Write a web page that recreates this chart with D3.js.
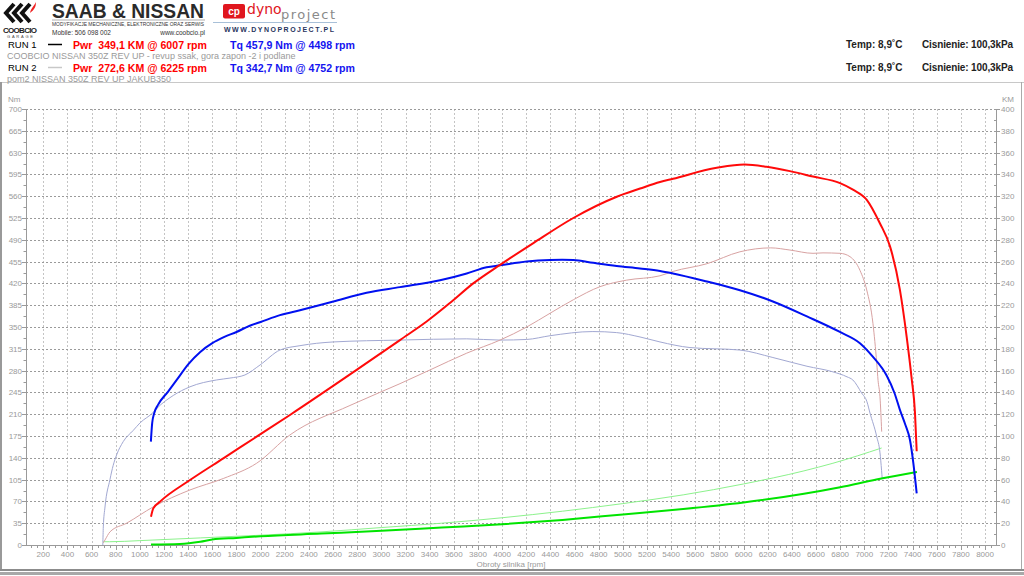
<!DOCTYPE html>
<html><head><meta charset="utf-8">
<script src="https://cdn.jsdelivr.net/npm/d3@7/dist/d3.min.js"></script>
<style>body{margin:0;background:#fff;} svg{display:block;font-family:"Liberation Sans",Arial,sans-serif;}</style>
</head><body><svg id="c" width="1024" height="576"></svg>
<script>
// ---- data ----
const rpmTicks = d3.range(200, 8001, 200);
const rpmMinor = d3.range(100, 8100, 50);
const nmTicks = d3.range(0, 701, 35);
const kmTicks = d3.range(0, 401, 20);

// Run 1 torque [rpm, Nm]
const tq1 = [[1091,166],[1102,196],[1119,212],[1150,225],[1232,246],[1305,265],[1400,290],[1500,310],[1600,324],[1700,334],[1800,342],[1910,352],[2000,358],[2160,369],[2326,377],[2602,391],[2878,405],[3154,414],[3486,425],[3707,436],[3872,446],[3983,449],[4204,455],[4397,457.5],[4498,457.9],[4590,457.5],[4755,453],[4949,448],[5142,444],[5308,440],[5415,436],[5697,423],[5970,409],[6243,391],[6525,367],[6798,342],[6964,324],[7072,302],[7185,272],[7250,244],[7295,217],[7340,193],[7378,169],[7406,132],[7434,83]];
// Run 2 torque [rpm, Nm]
const tq2 = [[693,0],[697,29],[711,61],[752,105],[779,128],[808,145],[862,166],[945,184],[1001,196],[1111,213],[1139,219],[1276,240],[1415,254],[1636,265],[1746,268],[1870,273],[1995,289],[2160,313],[2326,320],[2602,326],[3154,329],[3707,331],[3983,329],[4204,330],[4397,336],[4752,342.7],[4949,341],[5142,334],[5308,326],[5556,317],[5970,313],[6243,301],[6525,287],[6740,278],[6857,270],[6905,265],[6978,244],[7022,230],[7047,212],[7103,174],[7130,148],[7143,120],[7148,107]];
// Run 1 power [rpm, KM]
const pw1 = [[1092,26],[1111,33.6],[1166,39.7],[1415,59.6],[1691,79.5],[1967,99.4],[2243,119.3],[2795,160.6],[3154,188],[3375,205],[3568,222],[3761,240],[3983,257],[4259,277],[4590,300],[4950,319.5],[5143,327],[5308,333],[5416,336],[5778,346],[6007,349.1],[6191,347],[6384,343],[6575,338],[6799,332],[6906,326],[7022,316.5],[7130,295],[7213,274],[7295,234],[7351,191],[7392,153],[7420,121],[7434,86]];
// Run 2 power [rpm, KM]
const pw2 = [[697,2],[711,4.6],[752,12],[890,20],[1111,35],[1415,50.5],[1691,61],[1967,75],[2243,101],[2740,128],[3154,148],[3403,160.6],[3707,176],[3983,188],[4204,200],[4397,212.6],[4590,225],[4811,237],[5032,243],[5308,247],[5416,251],[5695,258],[5970,269],[6225,272.6],[6384,270.6],[6575,267.6],[6658,268],[6799,267.6],[6882,264.5],[6964,252],[7020,234],[7072,203],[7103,167],[7114,151],[7130,136],[7144,104]];
// Run 1 green [rpm, KM]
const gr1 = [[1092,0.5],[1330,1],[1500,3],[1600,5],[1800,6.5],[2000,8],[2500,10.5],[3000,13],[3500,16],[4000,19],[4500,23],[5000,28],[5500,33],[6000,39],[6500,47],[6800,53],[7100,60],[7436,67]];
// Run 2 green [rpm, KM]
const gr2 = [[697,3],[750,3],[1000,4],[1500,6.5],[2000,9],[2500,12],[3000,16],[3500,20],[4000,25],[4500,31],[5000,38],[5500,46],[6000,56],[6500,68],[6740,75],[7144,89]];

const run1 = {label:"RUN 1", pwr:"Pwr  349,1 KM @ 6007 rpm", tq:"Tq 457,9 Nm @ 4498 rpm", desc:"COOBCIO NISSAN 350Z REV UP - revup ssak, gora zapon -2 i podlane"};
const run2 = {label:"RUN 2", pwr:"Pwr  272,6 KM @ 6225 rpm", tq:"Tq 342,7 Nm @ 4752 rpm", desc:"pom2 NISSAN 350Z REV UP JAKUB350"};
const envText = ["Temp: 8,9˚C", "Cisnienie: 100,3kPa"];

// ---- drawing ----
const svg = d3.select("#c");
const x = d3.scaleLinear().domain([60, 8100]).range([26.4, 997.1]);
const yNm = d3.scaleLinear().domain([0, 700]).range([545, 109]);
const yKm = d3.scaleLinear().domain([0, 400]).range([545, 109]);
const px = v => Math.round(v) + 0.5;

// frame
svg.append("line").attr("x1",0).attr("x2",1024).attr("y1",82.5).attr("y2",82.5).attr("stroke","#c8c8c8");
svg.append("line").attr("x1",1).attr("x2",1).attr("y1",82).attr("y2",571).attr("stroke","#999").attr("stroke-width",2);
svg.append("line").attr("x1",1021.5).attr("x2",1021.5).attr("y1",82).attr("y2",571).attr("stroke","#aaa");
svg.append("rect").attr("x",0).attr("y",569).attr("width",1024).attr("height",2).attr("fill","#8c8c8c");
svg.append("rect").attr("x",0).attr("y",572).attr("width",1024).attr("height",3).attr("fill","#a8a8a8");

// grid
const g = svg.append("g");
g.selectAll(".vg").data(rpmTicks).join("line")
  .attr("x1",d=>px(x(d))).attr("x2",d=>px(x(d))).attr("y1",109).attr("y2",545)
  .attr("stroke","#c4c4c4").attr("stroke-dasharray","2,2");
g.selectAll(".hg").data(nmTicks.filter(d=>d>0)).join("line")
  .attr("x1",22).attr("x2",1000).attr("y1",d=>px(yNm(d))).attr("y2",d=>px(yNm(d)))
  .attr("stroke","#9a9a9a").attr("stroke-dasharray","2,2");

// axes
const ax = svg.append("g").attr("stroke","#9a9a9a");
ax.append("line").attr("x1",26.5).attr("x2",26.5).attr("y1",109).attr("y2",545);
ax.append("line").attr("x1",996.5).attr("x2",996.5).attr("y1",109).attr("y2",545);
ax.append("line").attr("x1",26).attr("x2",997).attr("y1",545.5).attr("y2",545.5);
ax.selectAll(".lt").data(d3.range(0,701,17.5)).join("line")
  .attr("x1",d=> d%35===0?22:23.5).attr("x2",26.5).attr("y1",d=>px(yNm(d))).attr("y2",d=>px(yNm(d)));
ax.selectAll(".rt").data(d3.range(0,401,10)).join("line")
  .attr("x1",d=> d%20===0?996.5:994).attr("x2",d=> d%20===0?1000:996.5).attr("y1",d=>px(yKm(d))).attr("y2",d=>px(yKm(d)));
ax.selectAll(".bt").data(rpmMinor).join("line")
  .attr("x1",d=>px(x(d))).attr("x2",d=>px(x(d))).attr("y1",545).attr("y2",d=> d%200===0?550:548);

const lab = svg.append("g").attr("fill","#9a9a9a").attr("font-size","8px");
lab.selectAll(".ll").data(nmTicks).join("text").attr("x",22).attr("y",d=>yNm(d)+3).attr("text-anchor","end").text(d=>d);
lab.selectAll(".rl").data(kmTicks).join("text").attr("x",1001).attr("y",d=>yKm(d)+3).text(d=>d);
lab.selectAll(".bl").data(rpmTicks).join("text").attr("x",d=>x(d)).attr("y",557).attr("text-anchor","middle").text(d=>d);
lab.append("text").attr("x",8).attr("y",102).text("Nm");
lab.append("text").attr("x",1002).attr("y",102).text("KM");
lab.append("text").attr("x",511).attr("y",567).attr("text-anchor","middle").text("Obroty silnika [rpm]");

// curves
const lineNm = d3.line().x(d=>x(d[0])).y(d=>yNm(d[1])).curve(d3.curveMonotoneX);
const lineKm = d3.line().x(d=>x(d[0])).y(d=>yKm(d[1])).curve(d3.curveMonotoneX);
const curves = [
  {d:gr2, f:lineKm, c:"#8cf28c", w:1},
  {d:tq2, f:lineNm, c:"#a2a8d2", w:1},
  {d:pw2, f:lineKm, c:"#d8a2a2", w:1},
  {d:gr1, f:lineKm, c:"#00e400", w:2},
  {d:tq1, f:lineNm, c:"#0010f0", w:2},
  {d:pw1, f:lineKm, c:"#ff0a0a", w:2}
];
svg.append("g").selectAll("path").data(curves).join("path")
  .attr("d",d=>d.f(d.d)).attr("fill","none").attr("stroke",d=>d.c).attr("stroke-width",d=>d.w)
  .attr("stroke-linejoin","round");

// header: run info
const h = svg.append("g");
[[run1,48,"#000"],[run2,71,"#c8c8c8"]].forEach(([r,yb,lc])=>{
  h.append("text").attr("x",8).attr("y",yb).attr("font-size","9.5px").attr("fill","#000").text(r.label);
  h.append("line").attr("x1",48).attr("x2",62).attr("y1",yb-3.5).attr("y2",yb-3.5).attr("stroke",lc).attr("stroke-width",1.5);
  h.append("text").attr("x",73).attr("y",yb+0.5).attr("font-size","11px").attr("font-weight","bold").attr("fill","#ff0000").attr("xml:space","preserve").attr("textLength",134).attr("lengthAdjust","spacingAndGlyphs").text(r.pwr);
  h.append("text").attr("x",230).attr("y",yb+0.5).attr("font-size","11px").attr("font-weight","bold").attr("fill","#1414f0").attr("textLength",125).attr("lengthAdjust","spacingAndGlyphs").text(r.tq);
  h.append("text").attr("x",7).attr("y",yb+11).attr("font-size","9px").attr("fill","#9a9a9a").text(r.desc);
  h.append("text").attr("x",846).attr("y",yb).attr("font-size","10px").attr("font-weight","bold").attr("fill","#222").text(envText[0]);
  h.append("text").attr("x",922).attr("y",yb).attr("font-size","10px").attr("font-weight","bold").attr("fill","#222").attr("textLength",91).text(envText[1]);
});

// logos
const lg = svg.append("g");
[0,8,16].forEach(dx=>{
  lg.append("path").attr("d",`M${14+dx},4 L${6+dx},13 L${14+dx},22`).attr("fill","none").attr("stroke","#111").attr("stroke-width",4).attr("stroke-linejoin","miter");
});
lg.append("path").attr("d","M30,13 C31,8 34,6 36,2 C36,7 34,10 30,13 Z").attr("fill","#e22");
lg.append("text").attr("x",3).attr("y",33).attr("font-size","8px").attr("font-weight","bold").attr("fill","#222").attr("textLength",34).text("COOBCIO");
lg.append("text").attr("x",7).attr("y",38).attr("font-size","4px").attr("fill","#444").attr("textLength",26).text("GARAGE");
lg.append("text").attr("x",52).attr("y",18).attr("font-size","21px").attr("font-weight","bold").attr("fill","#2a2a2a").attr("textLength",152).attr("lengthAdjust","spacingAndGlyphs").text("SAAB & NISSAN");
lg.append("line").attr("x1",52).attr("x2",205).attr("y1",20).attr("y2",20).attr("stroke","#777").attr("stroke-width",0.6);
lg.append("text").attr("x",52).attr("y",25.5).attr("font-size","5.5px").attr("fill","#333").attr("textLength",152).attr("lengthAdjust","spacingAndGlyphs").text("MODYFIKACJE MECHANICZNE, ELEKTRONICZNE ORAZ SERWIS");
lg.append("text").attr("x",52).attr("y",35).attr("font-size","6.5px").attr("fill","#333").text("Mobile: 506 098 002");
lg.append("text").attr("x",205).attr("y",35).attr("text-anchor","end").attr("font-size","6.5px").attr("fill","#333").text("www.coobcio.pl");
lg.append("rect").attr("x",223).attr("y",4).attr("width",22).attr("height",14.5).attr("rx",2).attr("fill","#e0161e");
lg.append("text").attr("x",234).attr("y",15).attr("text-anchor","middle").attr("font-size","10px").attr("font-weight","bold").attr("fill","#fff").text("cp");
lg.append("text").attr("x",247).attr("y",14).attr("font-size","14px").attr("font-family","DejaVu Sans").attr("fill","#e0161e").text("dyno");
lg.append("text").attr("x",281).attr("y",19).attr("font-size","13px").attr("font-family","DejaVu Sans").attr("fill","#8a8a8a").attr("textLength",54).text("project");
lg.append("line").attr("x1",213).attr("x2",337).attr("y1",22.5).attr("y2",22.5).attr("stroke","#a8c0d8").attr("stroke-width",1);
lg.append("text").attr("x",224).attr("y",31.5).attr("font-size","7px").attr("font-weight","bold").attr("fill","#2a3560").attr("textLength",110).text("WWW.DYNOPROJECT.PL");
</script></body></html>
